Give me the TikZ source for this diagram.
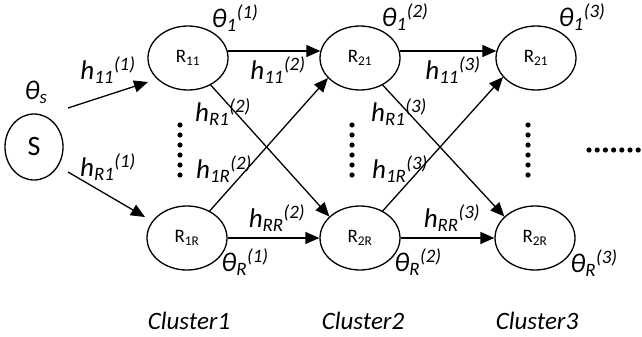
\documentclass[tikz,border=0pt]{standalone}
\usepackage{fontspec}
\setmainfont{Carlito}
\usetikzlibrary{shapes.geometric,arrows.meta}

\newcommand{\hlab}[2]{h\textsubscript{#1}\textsuperscript{(#2)}}
\newcommand{\thlab}[2]{θ\textsubscript{#1}\textsuperscript{(#2)}}

\tikzset{
  relay/.style={ellipse, draw, line width=1.3pt, minimum width=80pt, minimum height=64pt,
    inner sep=0pt, font=\fontsize{19}{21}\selectfont},
  link/.style={-{Triangle[length=14pt,width=12pt]}, line width=1.3pt},
  lbl/.style={font=\fontsize{27}{29}\selectfont\itshape, inner sep=0pt},
  cluster/.style={font=\fontsize{25}{28}\selectfont\itshape}
}

\begin{document}
\begin{tikzpicture}[x=1pt, y=-1pt]
    \useasboundingbox (0,0) rectangle (642,337);

    % Source
    \node[relay, minimum width=58pt, minimum height=66pt, font=\fontsize{28}{30}\selectfont] (S) at (34,147) {S};
    \node[lbl] (thS) at (36,92) {θ\textsubscript{s}};

    % Cluster 1
    \node[relay] (R11) at (188,58) {R\textsubscript{11}};
    \node[relay] (R1R) at (187,238) {R\textsubscript{1R}};
    \node[lbl] (th11) at (235,18) {\thlab{1}{1}};
    \node[lbl] (thR1) at (245,262) {\thlab{R}{1}};

    % Cluster 2
    \node[relay] (R21) at (360,58) {R\textsubscript{21}};
    \node[relay] (R2R) at (360,238) {R\textsubscript{2R}};
    \node[lbl] (th12) at (405,17) {\thlab{1}{2}};
    \node[lbl] (thR2) at (418,262) {\thlab{R}{2}};

    % Cluster 3
    \node[relay] (R31) at (536,58) {R\textsubscript{21}};
    \node[relay] (R3R) at (535,238) {R\textsubscript{2R}};
    \node[lbl] (th13) at (582,17) {\thlab{1}{3}};
    \node[lbl] (thR3) at (594,263) {\thlab{R}{3}};

    % Arrows
    \draw[link] ([xshift=34pt,yshift=39pt]S.center) -- ([xshift=-40pt,yshift=-24pt]R11.center);
    \draw[link] ([xshift=34pt,yshift=-25pt]S.center) -- ([xshift=-42pt,yshift=21pt]R1R.center);
    \draw[link] (R11.10) -- (R21.170);
    \draw[link] (R21.10) -- (R31.170);
    \draw[link] (R1R) -- (R2R);
    \draw[link] (R2R) -- (R3R);
    \draw[link] (R11.-50) -- (R2R.145);
    \draw[link] (R1R.50) -- (R21.212);
    \draw[link] (R21.-50) -- (R3R.145);
    \draw[link] (R2R.50) -- (R31.210);

    % Channel labels
    \node[lbl] (h111) at (108,70) {\hlab{11}{1}};
    \node[lbl] (hR11) at (108,167) {\hlab{R1}{1}};
    \node[lbl] (h112) at (278,70) {\hlab{11}{2}};
    \node[lbl] (hR12) at (223,112) {\hlab{R1}{2}};
    \node[lbl] (h1R2) at (224,169) {\hlab{1R}{2}};
    \node[lbl] (hRR2) at (277,218) {\hlab{RR}{2}};
    \node[lbl] (h113) at (453,70) {\hlab{11}{3}};
    \node[lbl] (hR13) at (399,112) {\hlab{R1}{3}};
    \node[lbl] (h1R3) at (400,169) {\hlab{1R}{3}};
    \node[lbl] (hRR3) at (452,218) {\hlab{RR}{3}};

    % Dots
    \foreach \x in {180,352,528}
        \foreach \y in {125,135,...,175}
            \fill (\x,\y) circle (2.6pt);
    \foreach \i in {0,...,6}
        \fill (589+8.2*\i,150) circle (2.6pt);

    % Cluster names
    \node[cluster] (c1) at (189,321) {Cluster1};
    \node[cluster] (c2) at (363,321) {Cluster2};
    \node[cluster] (c3) at (537,321) {Cluster3};
\end{tikzpicture}
\end{document}
